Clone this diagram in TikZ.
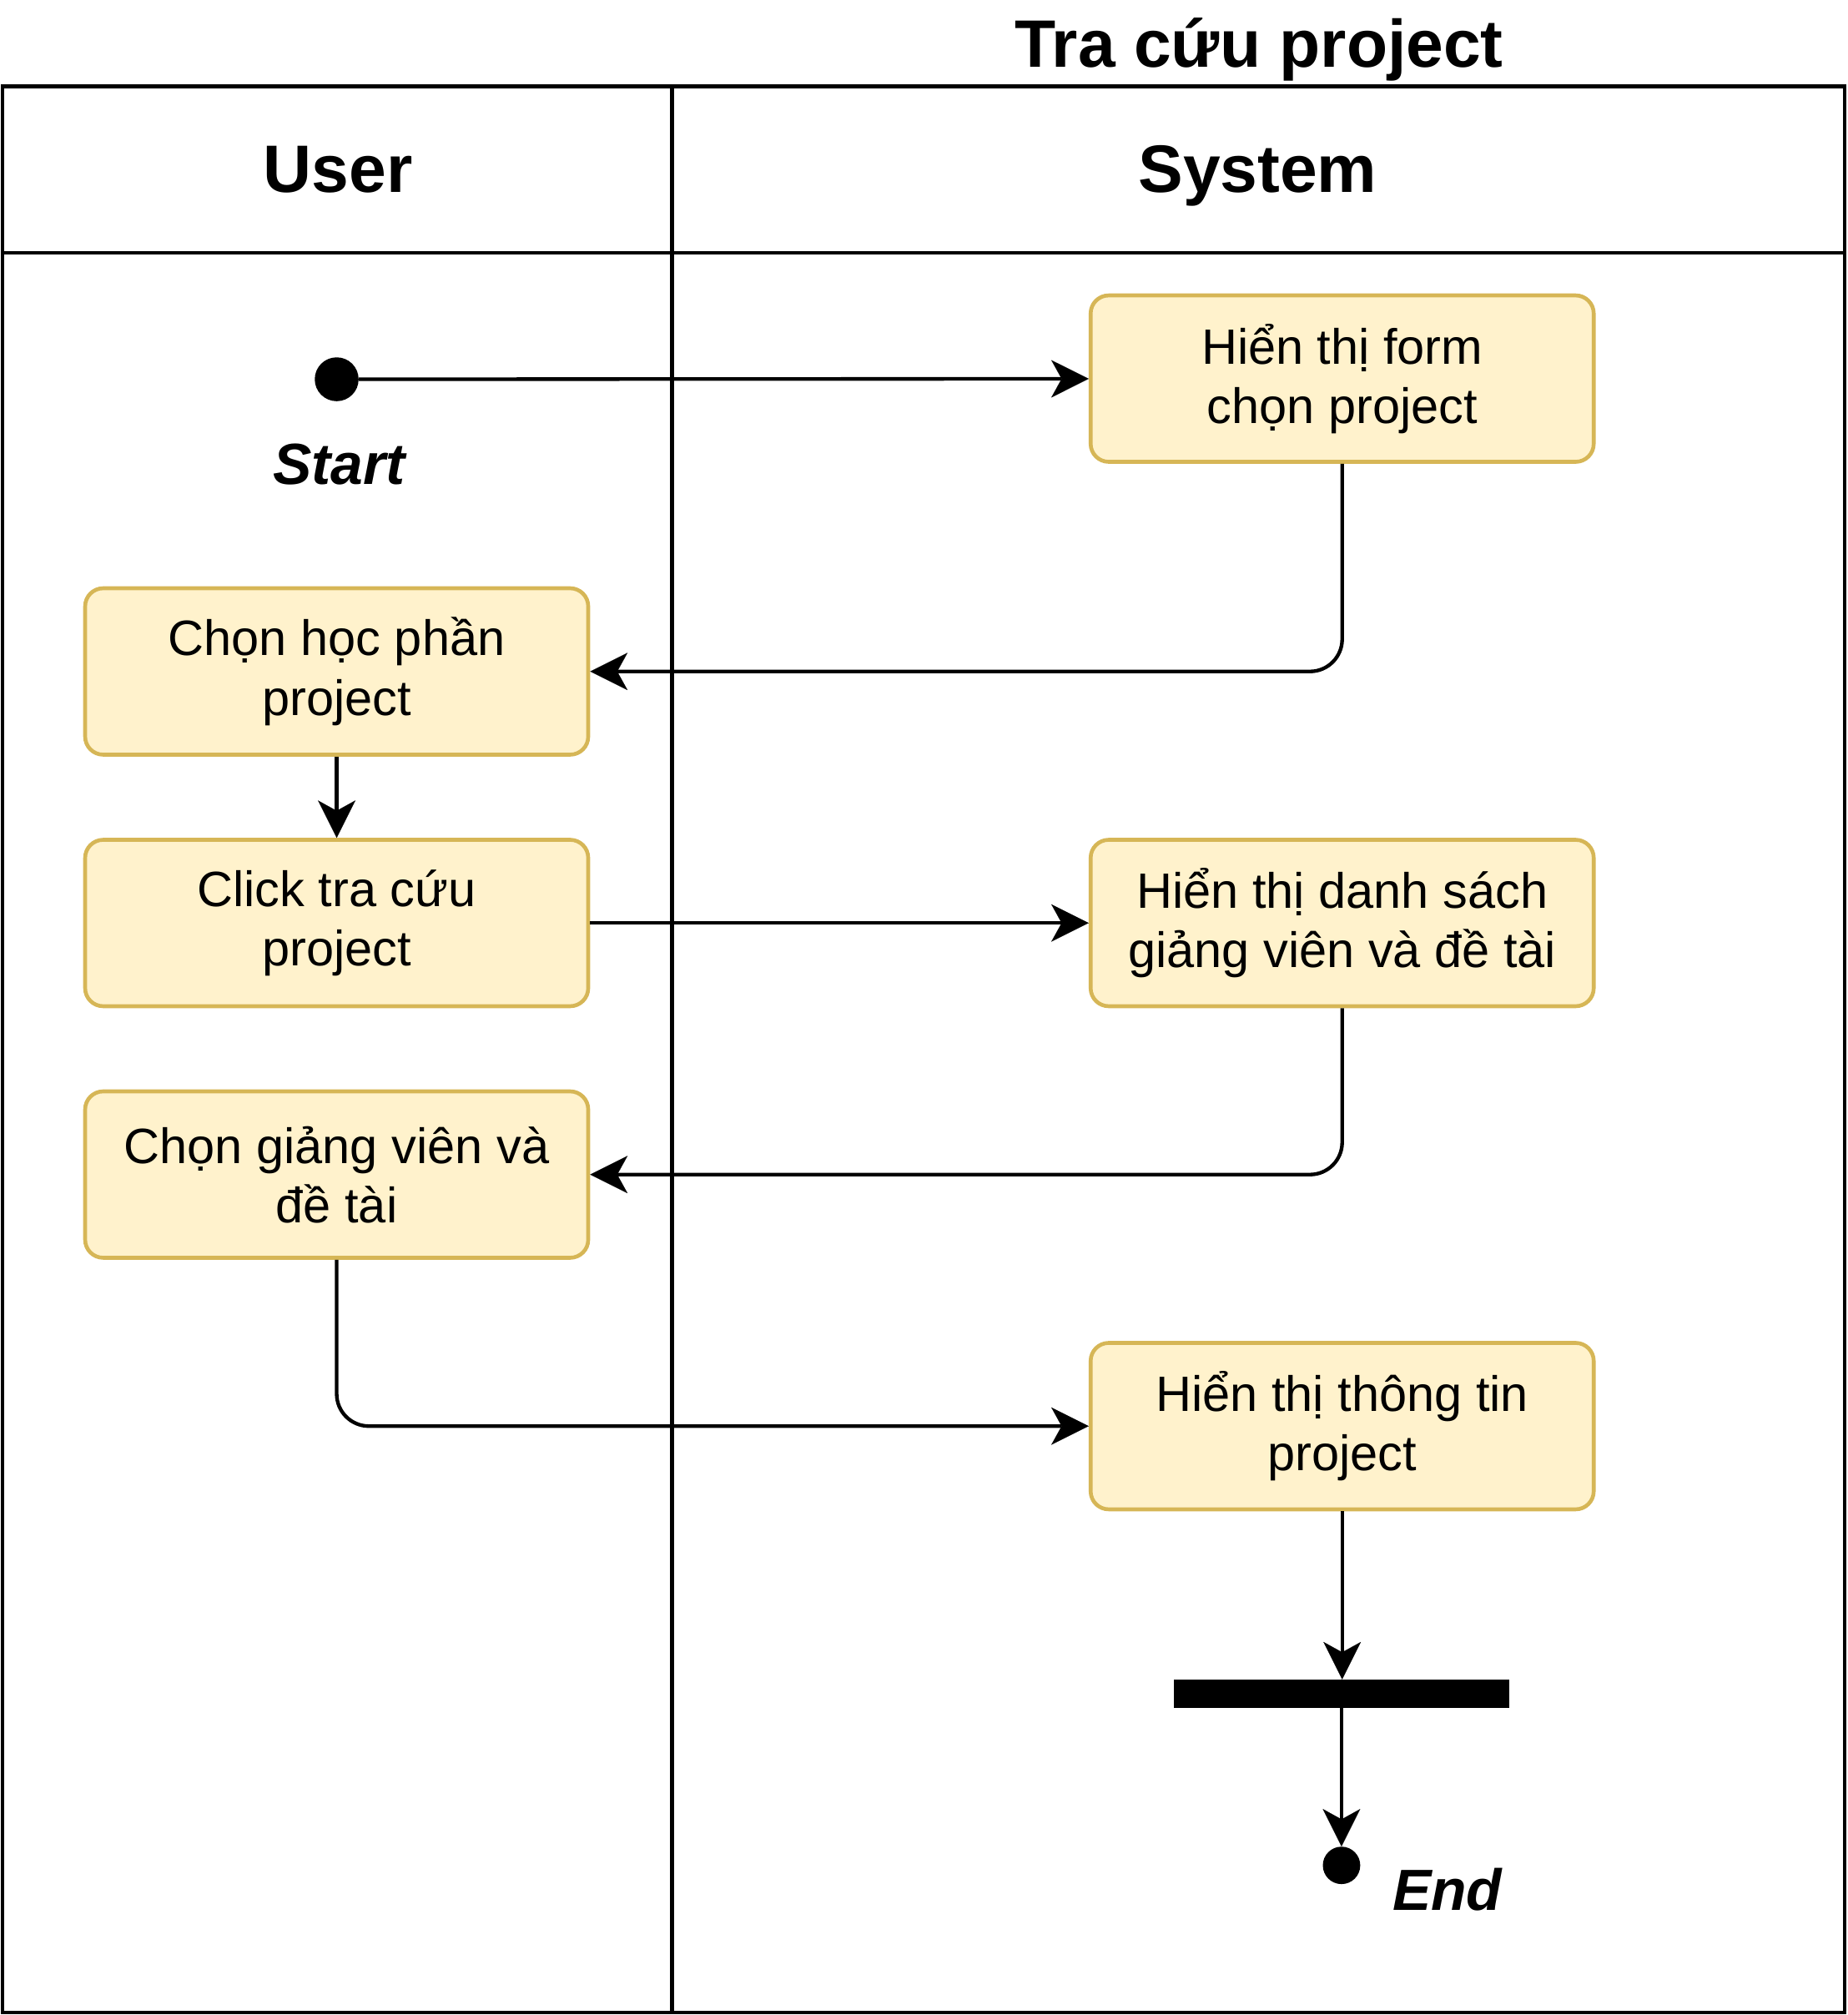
\documentclass[tikz,border=0pt]{standalone}
\usepackage{fontspec}
\setmainfont{Liberation Sans}
\usetikzlibrary{arrows.meta}
\definecolor{actfill}{HTML}{FFF2CC}
\definecolor{actborder}{HTML}{D6B656}
\begin{document}
\begin{tikzpicture}[x=1pt,y=-1pt,
  act/.style={draw=actborder, fill=actfill, line width=3pt, rounded corners=14pt,
    minimum width=390pt, minimum height=129pt, inner sep=0pt, align=center,
    font=\fontsize{38.5}{46}\selectfont},
  flow/.style={line width=2.8pt, -{Stealth[length=29pt,width=29pt,inset=8pt,line width=0.1pt]}, rounded corners=25pt},
  lane/.style={line width=3pt},
  head/.style={font=\fontsize{52}{60}\selectfont\bfseries, anchor=base, inner sep=0pt},
  lbl/.style={font=\fontsize{45}{54}\selectfont\bfseries\itshape}]
\useasboundingbox (0,0) rectangle (1432,1562);
% title and lanes
\node[head] (title) at (976,52) {Tra cứu project};
\draw[lane] (2,67) rectangle (1430,1560);
\draw[lane] (2,196) -- (1430,196);
\draw[lane] (521,67) -- (521,1560);
\node[head] (user) at (262,149) {User};
\node[head] (system) at (975,149) {System};
% nodes
\node[circle, fill=black, minimum size=34pt, inner sep=0pt] (start) at (261,294) {};
\node[lbl] (startl) at (263,360) {Start};
\node[act] (b1) at (1040.5,293.5) {Hiển thị form\\chọn project};
\node[act] (b2) at (261,520.5) {Chọn học phần\\project};
\node[act] (b3) at (261,715.5) {Click tra cứu\\project};
\node[act] (b4) at (1040.5,715.5) {Hiển thị danh sách\\giảng viên và đề tài};
\node[act] (b5) at (261,910.5) {Chọn giảng viên và\\đề tài};
\node[act] (b6) at (1040.5,1105.5) {Hiển thị thông tin\\project};
\node[fill=black, minimum width=260pt, minimum height=22pt, inner sep=0pt] (bar) at (1040,1313) {};
\node[circle, fill=black, minimum size=29pt, inner sep=0pt] (end) at (1040,1446) {};
\node[lbl] (endl) at (1122,1465) {End};
% connectors
\draw[flow] (start) -- (b1);
\draw[flow] (b1.south) |- (b2.east);
\draw[flow] (b2) -- (b3);
\draw[flow] (b3) -- (b4);
\draw[flow] (b4.south) |- (b5.east);
\draw[flow] (b5.south) |- (b6.west);
\draw[flow] (b6.south) -- (b6.south |- bar.north);
\draw[flow] (bar) -- (end);
\end{tikzpicture}
\end{document}
